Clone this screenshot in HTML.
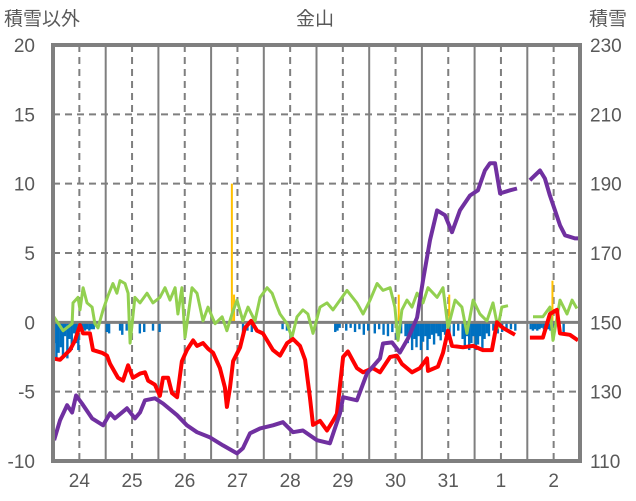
<!DOCTYPE html>
<html><head><meta charset="utf-8">
<style>
body{margin:0;background:#fff;}
svg{display:block;font-family:"Liberation Sans","Noto Sans CJK JP",sans-serif;}
</style></head>
<body>
<svg id="chart" width="636" height="501" viewBox="0 0 636 501"></svg>
<script>
const dayLabels=["24","25","26","27","28","29","30","31","1","2"];
const leftTicks=[20,15,10,5,0,-5,-10];
const rightTicks=[230,210,190,170,150,130,110];
const redH=[0,3.2,7.7,10,12.3,13.7,16.8,18.2,22.3,24.6,26,29.6,31.9,34.2,36.4,39.6,41.9,43.3,46.4,48.7,50.1,52.4,54.2,56.5,58.7,61,63.8,65.6,68.3,70.6,72.9,76,78.3,79.2,80.6,82,85.2,87.4,90.2,92.9,95.6,100.2,103.4,106.6,109.3,112.5,114.8,117,118.4,121.6,124.8,127.5,129.3,132.1,134.3,138.4,141.2,145.7,148.9,153.5,156.6,158.9,163.5,167.1,170.3,170.8,175.3,177.6,179.9,181.7,186.7,191.3,195.8,199.9,202.2,204.9,210.4,null,217.2,223.1,226.3,229.5,230.9,235.4,239.1];
const redV=[-2.6,-2.7,-2.0,-1.3,-0.2,-0.8,-0.8,-2.0,-2.2,-2.4,-3.0,-4.0,-4.2,-3.1,-4.0,-3.7,-3.6,-4.2,-4.5,-5.3,-4.0,-4.0,-5.1,-5.4,-2.8,-2.0,-1.3,-1.7,-1.5,-1.9,-2.2,-3.3,-4.7,-6.1,-4.7,-2.8,-1.8,-0.4,0.1,-0.6,-0.8,-2.0,-2.4,-1.5,-1.2,-1.7,-2.7,-5.4,-7.4,-7.1,-7.8,-7.1,-6.6,-2.5,-2.1,-3.3,-3.6,-3.3,-3.6,-2.5,-2.4,-3.0,-3.6,-3.3,-2.6,-3.5,-3.2,-2.2,-0.6,-1.7,-1.8,-1.7,-2.0,-2.0,0.0,-0.4,-0.9,null,-1.1,-1.1,0.6,0.9,-0.8,-0.9,-1.3];
const purH=[0.5,3.2,6.4,8.7,10.5,13.2,17.8,22.8,26,28.2,33.7,37.3,39.6,41.9,46.4,50.1,56.5,61,65.6,71.5,77.4,83.8,86.5,89.7,94.3,100.2,104.7,109.3,113.8,120.2,126.1,130.7,132.1,138.4,143,148.9,150.3,154.4,158,161.7,165.8,168.5,171.7,174.9,178.5,181.7,185.3,189.9,193.5,196.7,199,201.3,203.6,208.1,211.3,null,217.2,221.8,224,226.3,228.6,230.9,233.2,237.7,240];
const purV=[116.0,121.7,126.1,124.0,128.9,126.6,122.3,120.3,123.8,122.3,125.2,122.3,124.0,127.5,128.1,126.6,123.2,120.3,118.3,116.8,114.5,112.2,113.7,118.0,119.4,120.3,121.2,118.3,118.8,116.0,115.1,123.8,128.4,127.5,135.3,139.6,143.9,144.2,141.3,145.4,151.4,162.1,173.7,182.3,180.9,176.0,182.3,186.6,188.1,193.8,195.9,195.9,187.2,188.1,188.6,null,191.0,193.8,191.5,186.6,182.3,178.0,175.1,174.2,174.2];
const grnH=[0,4.6,8.7,9.1,11.4,12.3,13.7,15.5,17.8,19.1,20.5,22.8,25,27.3,29.1,30.5,32.8,34.2,35.1,37.3,39.6,42.8,45.5,48.7,51,53.3,55.6,56.9,58.7,60.1,63.3,65.6,68.3,70.6,73.8,77,79.2,81.5,83.8,86.5,88.8,92,94.3,97.5,99.8,102.1,103.4,106.6,108.8,111.1,113.8,116.1,118.4,121.6,124.8,127.5,130.7,133.9,138.4,141.2,144.4,147.6,150.3,153.5,155.7,157.1,158.9,161.2,163.5,165.8,168.5,170.8,174.9,177.6,179.9,183.1,186.2,188.5,191.3,194.4,197.6,200.4,202.6,204.4,207.2,null,218.6,223.1,226.3,227.7,230.9,234.1,236.4,238.6];
const grnV=[0.5,-0.6,-0.1,1.4,1.8,0.9,2.5,1.4,1.1,-0.1,-0.4,0.9,1.9,2.8,2.1,3.0,2.8,2.1,-1.5,1.8,1.4,2.1,1.4,1.8,2.5,1.6,2.5,0.6,2.5,-1.1,2.5,2.1,0.1,1.1,-0.1,0.4,-0.6,0.6,1.6,0.1,1.1,0.1,1.8,2.5,2.1,1.1,0.6,-0.1,-1.1,0.4,0.9,0.6,-0.8,1.1,1.4,0.9,1.6,2.3,1.4,0.6,1.6,2.8,2.3,2.5,1.1,-1.3,0.9,1.6,1.1,2.1,1.4,2.5,1.8,2.5,-0.4,1.6,1.1,-0.8,1.6,0.6,0.1,1.4,-0.4,1.1,1.2,null,0.4,0.4,1.1,-1.3,1.6,0.6,1.6,1.0];
const blueH=[0,1,2,3,4,5,6,7,8,9,10,11,12,13,14,15,16,17,18,24,25,30,31,33,39,41,45,48,86,88,90,104,106,128,129,130,133,135,137,139,141,143,146,148,150,152,154,156,158,160,161,162,163,164,165,166,167,168,169,170,171,172,173,174,175,176,177,178,180,182,184,186,187,188,189,190,191,192,193,194,195,196,197,198,200,202,204,206,208,210,217,218,219,220,221,222,223,225,226,228,230,232];
const blueV=[-1.5,-2.6,-2.2,-1.8,-2.5,-1.0,-2.6,-1.2,-2.0,-0.8,-1.5,-2.0,-0.6,-0.5,-0.6,-0.5,-0.6,-0.5,-0.5,-0.7,-0.8,-0.6,-0.9,-0.6,-0.8,-0.7,-0.6,-0.7,-0.8,-0.6,-0.7,-0.5,-0.6,-0.7,-0.6,-0.4,-0.6,-0.4,-0.7,-0.5,-0.9,-0.6,-0.8,-0.5,-0.9,-1.0,-0.7,-1.2,-0.8,-1.0,-1.5,-1.0,-2.0,-1.2,-1.8,-1.0,-2.0,-1.4,-1.0,-2.0,-1.2,-0.9,-1.6,-0.8,-1.0,-1.3,-0.7,-0.9,-0.8,-1.0,-0.6,-1.2,-1.7,-1.0,-2.0,-1.5,-1.0,-2.0,-1.6,-1.0,-2.0,-1.2,-0.8,-1.0,-0.6,-0.8,-0.7,-0.6,-0.5,-0.6,-0.5,-0.6,-0.5,-0.6,-0.5,-0.4,-0.5,-0.5,-0.6,-0.7,-0.6,-0.8];
const orangeH=[81,82,157,180,227];
const orangeV=[10,2,2,2,3];

const NS="http://www.w3.org/2000/svg";
const svg=document.getElementById('chart');
const X0=53,X1=580,Y0=45,Y1=461;
const xs=h=>X0+h*(X1-X0)/240;
const yl=v=>Y1-(v+10)*(Y1-Y0)/30;
const yr=v=>Y1-(v-110)*(Y1-Y0)/120;
function mk(tag,attrs,parent){const e=document.createElementNS(NS,tag);for(const k in attrs)e.setAttribute(k,attrs[k]);(parent||svg).appendChild(e);return e;}
const grid=mk('g',{});


leftTicks.forEach(v=>{if(v===20||v===-10||v===0)return;mk('line',{x1:X0,x2:X1,y1:yl(v),y2:yl(v),stroke:'#7f7f7f','stroke-width':2,'stroke-dasharray':'7,5'},grid);});
for(let d=0;d<10;d++){
  const xn=xs(d*24+12);
  mk('line',{x1:xn,x2:xn,y1:Y0,y2:Y1,stroke:'#7f7f7f','stroke-width':2,'stroke-dasharray':'7,5'},grid);
  if(d>0){const xb=xs(d*24);mk('line',{x1:xb,x2:xb,y1:Y0,y2:Y1,stroke:'#7f7f7f','stroke-width':2},grid);}
  const t=mk('text',{x:xn,y:487,'text-anchor':'middle','font-size':19,fill:'#595959'});
  t.textContent=dayLabels[d];
  
  
}
leftTicks.forEach(v=>{const t=mk('text',{x:35,y:yl(v)+7,'text-anchor':'end','font-size':19,fill:'#595959'});t.textContent=v;
  
  });
rightTicks.forEach(v=>{const t=mk('text',{x:590,y:yr(v)+7,'font-size':19,fill:'#595959'});t.textContent=v;
  
  });
// bars
blueH.forEach((h,i)=>{const y0=yl(0),y=yl(blueV[i]);const r=mk('rect',{x:xs(h),y:y0,width:2.4,height:y-y0,fill:'#0070c0'});
  
  });
orangeH.forEach((h,i)=>{const y0=yl(0),y=yl(orangeV[i]);const r=mk('rect',{x:xs(h),y:y,width:2,height:y0-y,fill:'#ffc000'});
  
  });
// zero line
mk('line',{x1:X0,x2:X1,y1:yl(0),y2:yl(0),stroke:'#7f7f7f','stroke-width':3});
function path(H,V,fy){let d='',pen=false;H.forEach((h,i)=>{if(h===null||V[i]===null){pen=false;return;}d+=(pen?'L':'M')+xs(h).toFixed(1)+','+fy(V[i]).toFixed(1);pen=true;});return d;}
const g=mk('path',{d:path(grnH,grnV,yl),fill:'none',stroke:'#92d050','stroke-width':3,'stroke-linejoin':'round'});


const r=mk('path',{d:path(redH,redV,yl),fill:'none',stroke:'#ff0000','stroke-width':4,'stroke-linejoin':'round'});


const p=mk('path',{d:path(purH,purV,yr),fill:'none',stroke:'#7030a0','stroke-width':4,'stroke-linejoin':'round'});


const f=mk('rect',{x:X0,y:Y0,width:X1-X0,height:Y1-Y0,fill:'none',stroke:'#7f7f7f','stroke-width':4});


const t1=mk('text',{x:315,y:25,'text-anchor':'middle','font-size':19,fill:'#595959'});t1.textContent='金山';


const t2=mk('text',{x:4,y:25,'font-size':19,fill:'#595959'});t2.textContent='積雪以外';


const t3=mk('text',{x:589,y:25,'font-size':19,fill:'#595959'});t3.textContent='積雪';


</script>
</body></html>
